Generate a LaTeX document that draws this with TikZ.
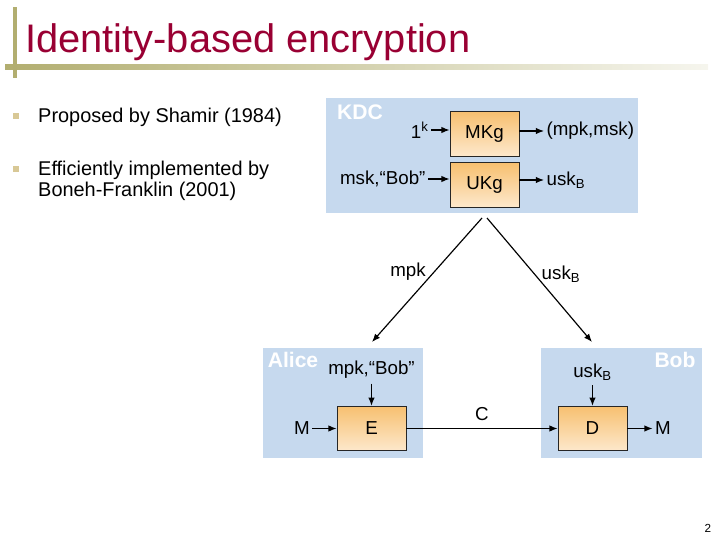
\documentclass[tikz,border=0pt]{standalone}
\usepackage{fontspec}
\setmainfont{Liberation Sans}
\usetikzlibrary{arrows.meta,positioning}

\definecolor{titlered}{RGB}{153,0,51}
\definecolor{barolive}{RGB}{178,174,112}
\definecolor{bullettan}{RGB}{216,200,150}
\definecolor{panelblue}{RGB}{198,217,238}
\definecolor{algtop}{RGB}{247,192,112}
\definecolor{algbot}{RGB}{253,232,204}

\tikzset{
  panel/.style={fill=panelblue, inner sep=0pt},
  alg/.style={draw=black!85, line width=0.6pt, top color=algtop, bottom color=algbot,
    minimum width=2.07cm, minimum height=1.34cm, font=\fontsize{16}{19}\selectfont},
  lbl/.style={inner sep=2pt, font=\fontsize{16}{19}\selectfont},
  party/.style={text=white, inner sep=0pt, font=\bfseries\fontsize{18}{22}\selectfont},
  arr/.style={-{Latex[length=7pt,width=5.5pt]}, line width=1pt},
  bullettxt/.style={anchor=base west, inner sep=0pt, font=\fontsize{17}{20}\selectfont},
}

\begin{document}
\begin{tikzpicture}[x=0.03cm, y=-0.03cm]
    \useasboundingbox (0,0) rectangle (720,540);

      % Title and slide bars
      \shade[left color=barolive, right color=barolive!12] (5,65) rectangle (708,70);
      \fill[barolive] (13,7) rectangle (17,78);
      \node[anchor=base west, inner sep=0pt, text=titlered, font=\fontsize{34}{40}\selectfont] (title) at (25,53) {Identity-based encryption};

      % Bullets
      \fill[bullettan] (13,113) rectangle (19,119);
      \fill[bullettan] (13,166) rectangle (19,172);
      \node[bullettxt] (pt1) at (38,123) {Proposed by Shamir (1984)};
      \node[bullettxt] (pt2) at (38,176) {Efficiently implemented by};
      \node[bullettxt] (pt2b) at (38,197) {Boneh-Franklin (2001)};

      % KDC
      \node[panel, minimum width=9.36cm, minimum height=3.45cm] (kdc) at (482,155.5) {};
      \node[party] (kdclbl) at (360,112) {KDC};
      \node[alg] (mkg) at (484.5,134) {MKg};
      \node[alg] (ukg) at (484.5,185) {UKg};
      \node[lbl, anchor=east] (onek) at (431,130) {1\textsuperscript{k}};
      \node[lbl, anchor=west] (mpkmsk) at (544,131) {(mpk,msk)};
      \node[lbl, anchor=east] (mskbob) at (428,179) {msk,``Bob''};
      \node[lbl, anchor=west] (uskb1) at (544,180) {usk\textsubscript{B}};
      \draw[arr] (onek.east) -- (onek.east -| mkg.west);
      \draw[arr] (mkg.east |- mpkmsk.west) -- (mpkmsk.west);
      \draw[arr] (mskbob.east) -- (mskbob.east -| ukg.west);
      \draw[arr] (ukg.east |- uskb1.west) -- (uskb1.west);

      % key distribution
      \coordinate (kdcl) at (482,218);
      \coordinate (kdcr) at (487,218);
      \coordinate (alicein) at (372,342);
      \coordinate (bobin) at (592,342);
      \draw[arr] (kdcl) -- (alicein);
      \draw[arr] (kdcr) -- (bobin);
      \node[lbl] (mpklbl) at (408,272) {mpk};
      \node[lbl] (usklbl) at (561,274) {usk\textsubscript{B}};

      % Alice and Bob
      \node[panel, minimum width=4.8cm, minimum height=3.3cm] (alice) at (343,403) {};
      \node[panel, minimum width=4.83cm, minimum height=3.3cm] (bob) at (621.5,403) {};
      \node[party] (alicelbl) at (293,360) {Alice};
      \node[party] (boblbl) at (675,360) {Bob};
      \node[alg] (enc) at (371.5,428.5) {E};
      \node[alg] (dec) at (592.5,428.5) {D};
      \node[lbl, inner sep=4pt] (mpkbob) at (371.5,370) {mpk,``Bob''};
      \node[lbl, inner sep=4pt] (uskb2) at (592.5,372) {usk\textsubscript{B}};
      \node[lbl] (msgin) at (302,428.5) {M};
      \node[lbl] (msgout) at (663,428.5) {M};
      \draw[arr] (mpkbob) -- (enc);
      \draw[arr] (uskb2) -- (dec);
      \draw[arr] (msgin) -- (enc);
      \draw[arr] (enc) -- node[lbl, above=4pt] (ctext) {C} (dec);
      \draw[arr] (dec) -- (msgout);

      \node[inner sep=0pt, font=\fontsize{10}{12}\selectfont] (pageno) at (708,528) {2};
    \end{tikzpicture}
\end{document}
